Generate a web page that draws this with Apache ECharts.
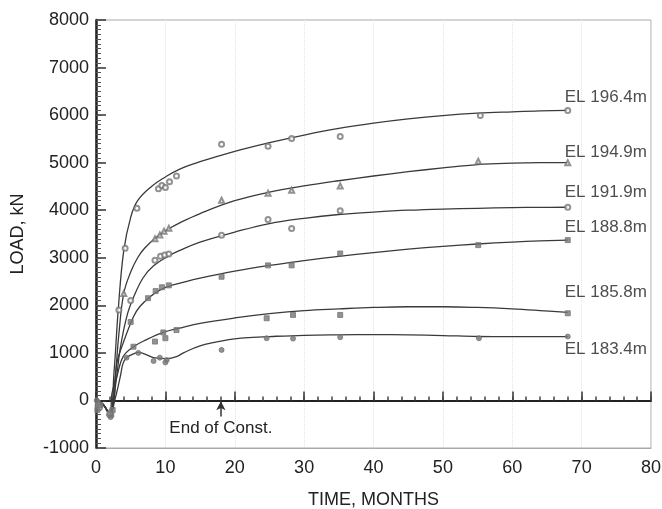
<!DOCTYPE html>
<html lang="en">
<head>
<meta charset="utf-8">
<title>Load vs time</title>
<style>
  * { margin: 0; padding: 0; }
  body { background: #fff; }
  #chart-container { width: 662px; height: 509px; }
</style>
</head>
<body>
<div id="chart-container"></div>
<script src="https://cdn.jsdelivr.net/npm/echarts@6/dist/echarts.min.js"></script>
<script>
// elevations (curve labels)
var elevations = ['EL 196.4m', 'EL 194.9m', 'EL 191.9m', 'EL 188.8m', 'EL 185.8m', 'EL 183.4m'];

// fitted curves [month, load kN]
var fit196 = [[0,0],[1,-80],[2,-280],[2.6,600],[3.2,1900],[4,3150],[5,3850],[6,4200],[8,4500],[10,4700],[12,4860],[15,5020],[20,5240],[25,5420],[30,5580],[35,5720],[40,5830],[45,5920],[50,5990],[55,6040],[60,6070],[64,6090],[68,6100]];
var fit194 = [[0,0],[1,-80],[2,-280],[2.7,400],[3.3,1400],[4,2250],[5,2700],[6,3000],[7,3200],[8.7,3430],[10.5,3610],[12,3730],[15,3930],[20,4200],[25,4380],[30,4510],[35,4620],[40,4720],[45,4810],[50,4890],[55,4960],[60,4990],[64,5000],[68,5000]];
var fit191 = [[0,0],[1,-80],[2,-280],[2.8,300],[3.5,1100],[4.5,1800],[5.5,2200],[6.8,2580],[8.3,2830],[10.5,3040],[12,3150],[15,3330],[20,3540],[25,3720],[30,3830],[35,3910],[40,3960],[45,4000],[50,4025],[55,4040],[60,4055],[64,4060],[68,4063]];
var fit188 = [[0,0],[1,-80],[2,-280],[2.6,0],[3,780],[3.9,1200],[5.4,1760],[6.3,1970],[7.8,2180],[9.2,2320],[10.5,2400],[12,2460],[15,2570],[20,2720],[25,2840],[30,2940],[35,3030],[40,3110],[45,3180],[50,3240],[55,3290],[60,3330],[64,3355],[68,3371]];
var fit185 = [[0,0],[1,-80],[2,-280],[2.3,150],[3,500],[3.9,920],[5.4,1130],[7.3,1280],[9.7,1430],[12,1520],[15,1620],[20,1735],[25,1825],[30,1890],[35,1925],[40,1955],[45,1970],[50,1970],[55,1955],[60,1925],[64,1890],[68,1850]];
var fit183 = [[0,0],[1,-80],[2,-300],[2.7,0],[3.5,500],[3.9,780],[4.4,900],[5.4,980],[6.1,1010],[7.3,960],[8.3,900],[10.2,880],[11.6,920],[12.6,1000],[15,1150],[18.4,1260],[22,1320],[26,1350],[30,1370],[35,1380],[40,1385],[45,1380],[50,1365],[55,1345],[60,1340],[64,1340],[68,1340]];

// measured points [month, load kN]
var obs196 = [[0.3,-100],[2,-300],[3.3,1900],[4.2,3200],[5.9,4040],[9,4450],[9.5,4520],[10,4480],[10.6,4600],[11.6,4720],[18.1,5385],[24.8,5344],[28.2,5510],[35.2,5550],[55.4,5993],[68,6098]];
var obs194 = [[0.4,-50],[2,-250],[4,2250],[8.5,3400],[9.2,3480],[9.8,3560],[10.5,3620],[18.1,4210],[24.8,4357],[28.2,4420],[35.2,4510],[55.1,5029],[68,4998]];
var obs191 = [[0.5,-150],[2,-280],[5,2100],[8.5,2950],[9.3,3030],[9.9,3060],[10.5,3080],[18.1,3476],[24.8,3805],[28.2,3616],[35.2,3990],[68,4063]];
var obs188 = [[0.2,-200],[2.2,-300],[5,1650],[7.5,2150],[8.6,2300],[9.5,2380],[10.5,2420],[18.1,2601],[24.8,2840],[28.2,2840],[35.2,3090],[55.1,3266],[68,3371]];
var obs185 = [[0.6,-100],[2.4,-200],[5.4,1130],[8.5,1238],[9.7,1430],[10,1309],[11.6,1480],[24.6,1728],[28.4,1798],[35.2,1798],[68,1833]];
var obs183 = [[0.1,0],[2.1,-350],[4.4,900],[6.1,1000],[8.3,830],[9.2,900],[10,800],[10.2,850],[18.1,1063],[24.6,1309],[28.4,1300],[35.2,1330],[55.2,1309],[68,1343]];

var endOfConstMonth = 18;

var fits = [fit196, fit194, fit191, fit188, fit185, fit183];
var observations = [obs196, obs194, obs191, obs188, obs185, obs183];

// styling for each curve
var markerSymbols = ['emptyCircle', 'emptyTriangle', 'emptyCircle', 'rect', 'rect', 'circle'];
var labelShift = [-13, -10, -15, -13, -20, 13];

var dom = document.getElementById('chart-container');
var myChart = echarts.init(dom, null, { renderer: 'canvas' });

var font = 'Liberation Sans, Arial, sans-serif';
var hidden = 'rgba(0,0,0,0)';
var series = [];

fits.forEach(function (fit, i) {
    var s = {
        name: elevations[i],
        type: 'line',
        smooth: 0.4,
        symbol: 'none',
        lineStyle: { color: '#3a3a3a', width: 1.3 },
        data: fit,
        z: 3
    };
    if (i === fits.length - 1) {
        s.markLine = {
            silent: true,
            symbol: ['none', 'arrow'],
            symbolSize: [7, 9],
            lineStyle: { color: '#333', type: 'solid', width: 1.5 },
            label: {
                show: true,
                position: 'start',
                formatter: 'End of Const.',
                fontFamily: font,
                fontSize: 17,
                color: '#222',
                distance: 3
            },
            data: [[{ coord: [endOfConstMonth, -340] }, { coord: [endOfConstMonth, -15] }]]
        };
    }
    series.push(s);
});

observations.forEach(function (obs, i) {
    series.push({
        type: 'scatter',
        symbol: markerSymbols[i],
        symbolSize: 5,
        itemStyle: { color: '#777', borderColor: '#777' },
        data: obs,
        z: 4
    });
});

// curve name labels at the end of each curve
fits.forEach(function (fit, i) {
    var last = fit[fit.length - 1];
    series.push({
        type: 'scatter',
        symbolSize: 0.1,
        itemStyle: { color: hidden },
        silent: true,
        label: {
            show: true,
            position: [-3, labelShift[i]],
            align: 'left',
            verticalAlign: 'middle',
            formatter: elevations[i],
            fontFamily: font,
            fontSize: 17,
            color: '#222'
        },
        data: [last],
        z: 5
    });
});

var option = {
    backgroundColor: '#fff',
    animation: false,
    grid: {
        left: 96, right: 11, top: 20, bottom: 61,
        show: true,
        borderColor: '#aaa',
        borderWidth: 1,
        outerBoundsMode: 'none'
    },
    xAxis: [
        {
            type: 'value',
            min: 0, max: 80, interval: 10,
            position: 'bottom',
            name: 'TIME, MONTHS',
            nameLocation: 'middle',
            nameGap: 43,
            nameTextStyle: { fontFamily: font, fontSize: 18, color: '#222' },
            axisLine: { onZero: false, lineStyle: { color: '#aaa', width: 1 } },
            axisTick: { show: false },
            axisLabel: { fontFamily: font, fontSize: 18, color: '#222', margin: 11 },
            splitLine: { show: true, lineStyle: { color: '#e4e4e4', type: 'dotted' } }
        },
        {
            // the zero line with its major ticks
            type: 'value',
            min: 0, max: 80, interval: 10,
            position: 'bottom',
            axisLine: { onZero: true, lineStyle: { color: '#222', width: 2 } },
            axisTick: { show: true, inside: true, length: 9, lineStyle: { color: '#333', width: 1.5 } },
            axisLabel: { show: false },
            splitLine: { show: false }
        },
        {
            // minor ticks on the zero line
            type: 'value',
            min: 0, max: 80, interval: 2,
            position: 'bottom',
            axisLine: { show: true, onZero: true, lineStyle: { color: hidden } },
            axisTick: { show: true, inside: true, length: 4, lineStyle: { color: '#444', width: 1.5 } },
            axisLabel: { show: false },
            splitLine: { show: false }
        }
    ],
    yAxis: [
        {
            type: 'value',
            min: -1000, max: 8000, interval: 1000,
            name: 'LOAD, kN',
            nameLocation: 'middle',
            nameGap: 69,
            nameTextStyle: { fontFamily: font, fontSize: 18, color: '#222' },
            axisLine: { onZero: false, lineStyle: { color: '#222', width: 2.5 } },
            axisTick: { show: true, inside: true, length: 10, lineStyle: { color: '#333', width: 1.5 } },
            axisLabel: {
                fontFamily: font, fontSize: 18, color: '#222', margin: 7,
                formatter: function (v) { return String(v); }
            },
            splitLine: { show: false }
        },
        {
            // minor ticks on the load axis
            type: 'value',
            min: -1000, max: 8000, interval: 100,
            position: 'left',
            axisLine: { show: true, onZero: false, lineStyle: { color: hidden } },
            axisTick: { show: true, inside: true, length: 5, lineStyle: { color: '#555', width: 1 } },
            axisLabel: { show: false },
            splitLine: { show: false }
        }
    ],
    series: series
};

myChart.setOption(option);
window.addEventListener('resize', myChart.resize);
</script>
</body>
</html>
